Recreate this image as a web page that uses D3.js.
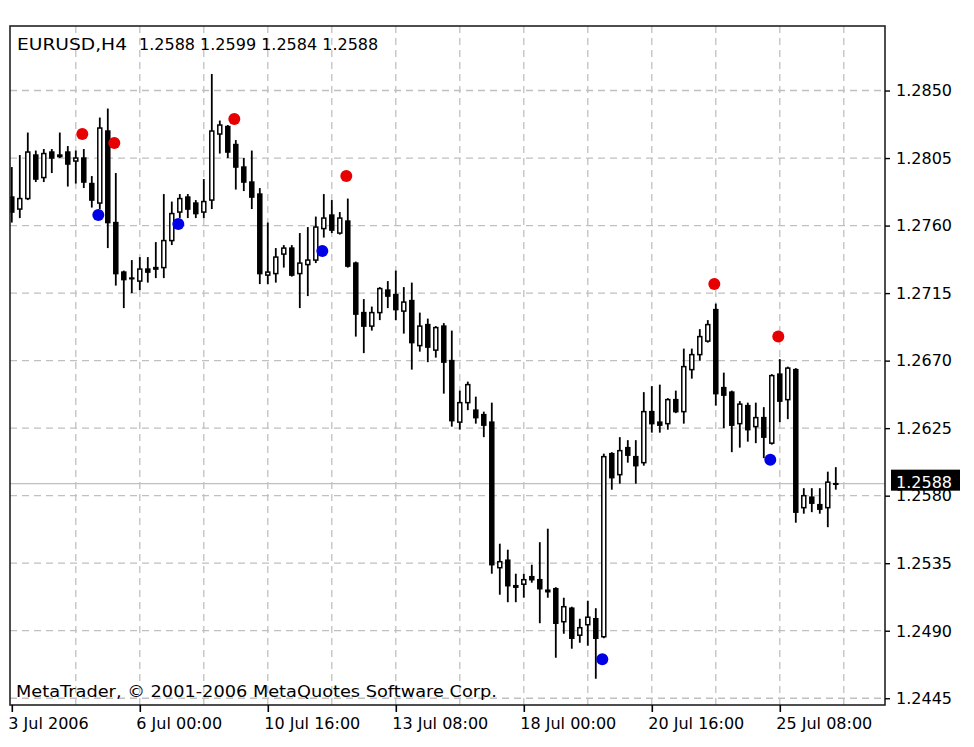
<!DOCTYPE html>
<html><head><meta charset="utf-8">
<script src="https://cdn.jsdelivr.net/npm/d3@7"></script>
<style>
body{margin:0;background:#fff}
svg{display:block}
text{font-family:"DejaVu Sans",Verdana,sans-serif}
</style>
</head><body>
<svg id="chart" width="974" height="747"></svg>
<script>
// ---- data (EURUSD H4, bar index 0 = 3 Jul 2006) ----
const symbol = "EURUSD,H4";
const opens = [1.2779,1.2771,1.2778,1.2807,1.2792,1.2809,1.2807,1.2809,1.2803,1.2805,
1.2788,1.2775,1.2823,1.2762,1.2729,1.2725,1.2723,1.2731,1.2731,1.2732,
1.2750,1.2769,1.2779,1.2775,1.2769,1.2777,1.2821,1.2826,1.2814,1.2799,
1.2789,1.2781,1.2727,1.2728,1.2741,1.2745,1.2728,1.2734,1.2737,1.2758,
1.2767,1.2755,1.2763,1.2735,1.2702,1.2693,1.2702,1.2717,1.2714,1.2703,
1.2710,1.2680,1.2694,1.2677,1.2693,1.2670,1.2629,1.2642,1.2637,1.2634,
1.2629,1.2532,1.2537,1.2520,1.2521,1.2526,1.2524,1.2517,1.2518,1.2496,
1.2505,1.2487,1.2494,1.2498,1.2486,1.2608,1.2594,1.2612,1.2606,1.2602,
1.2636,1.2629,1.2628,1.2644,1.2636,1.2664,1.2674,1.2683,1.2704,1.2652,
1.2649,1.2628,1.2640,1.2626,1.2632,1.2615,1.2661,1.2644,1.2664,1.2572,
1.2579,1.2574,1.2572,1.2588];
const highs = [1.2799,1.2807,1.2822,1.2810,1.2811,1.2811,1.2822,1.2813,1.2810,1.2811,
1.2793,1.2832,1.2838,1.2795,1.2730,1.2737,1.2739,1.2739,1.2749,1.2781,
1.2776,1.2781,1.2781,1.2777,1.2791,1.2861,1.2830,1.2827,1.2817,1.2805,
1.2810,1.2785,1.2762,1.2745,1.2747,1.2747,1.2755,1.2759,1.2766,1.2781,
1.2777,1.2769,1.2778,1.2736,1.2711,1.2706,1.2719,1.2723,1.2730,1.2719,
1.2722,1.2702,1.2698,1.2693,1.2695,1.2690,1.2650,1.2656,1.2646,1.2636,
1.2642,1.2548,1.2544,1.2528,1.2528,1.2534,1.2549,1.2558,1.2519,1.2512,
1.2506,1.2498,1.2510,1.2505,1.2608,1.2609,1.2619,1.2617,1.2617,1.2649,
1.2653,1.2654,1.2645,1.2650,1.2678,1.2678,1.2691,1.2697,1.2708,1.2662,
1.2650,1.2643,1.2642,1.2642,1.2639,1.2661,1.2671,1.2666,1.2665,1.2585,
1.2585,1.2585,1.2596,1.2599];
const lows = [1.2762,1.2765,1.2777,1.2789,1.2789,1.2795,1.2805,1.2786,1.2788,1.2785,
1.2772,1.2771,1.2745,1.2720,1.2705,1.2715,1.2717,1.2722,1.2725,1.2725,
1.2747,1.2765,1.2765,1.2765,1.2765,1.2771,1.2808,1.2805,1.2784,1.2783,
1.2771,1.2721,1.2721,1.2722,1.2732,1.2726,1.2705,1.2713,1.2735,1.2752,
1.2755,1.2754,1.2732,1.2686,1.2675,1.2690,1.2697,1.2705,1.2697,1.2688,
1.2664,1.2676,1.2669,1.2672,1.2648,1.2626,1.2624,1.2637,1.2628,1.2619,
1.2528,1.2514,1.2509,1.2509,1.2512,1.2522,1.2495,1.2512,1.2472,1.2488,
1.2478,1.2482,1.2480,1.2458,1.2485,1.2584,1.2588,1.2602,1.2588,1.2600,
1.2622,1.2622,1.2624,1.2635,1.2628,1.2658,1.2670,1.2682,1.2640,1.2625,
1.2609,1.2612,1.2616,1.2615,1.2605,1.2614,1.2629,1.2631,1.2562,1.2568,
1.2569,1.2568,1.2559,1.2584];
const closes = [1.2769,1.2778,1.2809,1.2791,1.2808,1.2805,1.2806,1.2801,1.2805,1.2789,
1.2777,1.2825,1.2762,1.2728,1.2724,1.2725,1.2731,1.2729,1.2732,1.2750,
1.2768,1.2778,1.2771,1.2768,1.2776,1.2823,1.2827,1.2809,1.2799,1.2789,
1.2779,1.2728,1.2729,1.2739,1.2745,1.2727,1.2735,1.2737,1.2759,1.2765,
1.2757,1.2765,1.2733,1.2701,1.2693,1.2702,1.2718,1.2713,1.2704,1.2709,
1.2682,1.2693,1.2679,1.2692,1.2669,1.2630,1.2642,1.2654,1.2632,1.2627,
1.2534,1.2536,1.2520,1.2519,1.2524,1.2524,1.2518,1.2516,1.2495,1.2506,
1.2485,1.2492,1.2499,1.2485,1.2606,1.2592,1.2610,1.2607,1.2600,1.2636,
1.2628,1.2627,1.2644,1.2636,1.2666,1.2674,1.2686,1.2694,1.2648,1.2647,
1.2627,1.2641,1.2624,1.2632,1.2619,1.2660,1.2643,1.2665,1.2569,1.2580,
1.2575,1.2571,1.2589,1.2588];
// fractal-style markers
const upMarkBars   = [9, 13, 28, 42, 88, 96];
const upMarkPrices = [1.2821, 1.2815, 1.2831, 1.2793, 1.2721, 1.2686];
const dnMarkBars   = [11, 21, 39, 74, 95];
const dnMarkPrices = [1.2767, 1.2761, 1.2743, 1.2471, 1.2604];
// axis ticks
const priceTicks = [1.2850,1.2805,1.2760,1.2715,1.2670,1.2625,1.2580,1.2535,1.2490,1.2445];
const timeTickBars = [0,16,32,48,64,80,96];
const timeTickLabels = ["3 Jul 2006","6 Jul 00:00","10 Jul 16:00","13 Jul 08:00","18 Jul 00:00","20 Jul 16:00","25 Jul 08:00"];
const gridBars = [8,16,24,32,40,48,56,64,72,80,88,96,104];
const copyright = "MetaTrader, \u00A9 2001-2006 MetaQuotes Software Corp.";

// ---- layout ----
const L = 10, R = 885, T = 26, B = 705;
const svg = d3.select("#chart");
const n = opens.length;
const x = d3.scaleLinear().domain([0, 103]).range([11.8, 835.8]);
const y = d3.scaleLinear().domain([1.24405, 1.28930]).range([B, T]);
const gridColor = "#c0c0c0";

svg.append("rect").attr("width",974).attr("height",747).attr("fill","#fff");

svg.append("defs").append("clipPath").attr("id","plot")
  .append("rect").attr("x",L).attr("y",T).attr("width",R-L).attr("height",B-T);

const g = svg.append("g").attr("clip-path","url(#plot)");

// grid
g.selectAll("line.hg").data(priceTicks).join("line")
  .attr("x1",L).attr("x2",R).attr("y1",d=>y(d)).attr("y2",d=>y(d))
  .attr("stroke",gridColor).attr("stroke-width",1.3).attr("stroke-dasharray","7,5");
g.selectAll("line.vg").data(gridBars).join("line")
  .attr("y1",T).attr("y2",B).attr("x1",d=>x(d)).attr("x2",d=>x(d))
  .attr("stroke",gridColor).attr("stroke-width",1.3).attr("stroke-dasharray","7,5");

// current price line
const last = closes[n-1];
g.append("line").attr("x1",L).attr("x2",R).attr("y1",y(last)).attr("y2",y(last))
  .attr("stroke","#c0c0c0").attr("stroke-width",1.4);

// candles
const idx = d3.range(n);
g.selectAll("line.wick").data(idx).join("line")
  .attr("x1",i=>x(i)).attr("x2",i=>x(i))
  .attr("y1",i=>y(highs[i])).attr("y2",i=>y(lows[i]))
  .attr("stroke","#000").attr("stroke-width",1.8);
const bw = 4;
g.selectAll("rect.body").data(idx).join("rect")
  .attr("x",i=>x(i)-bw/2).attr("width",bw)
  .attr("y",i=>y(Math.max(opens[i],closes[i])))
  .attr("height",i=>Math.max(0.6, Math.abs(y(opens[i])-y(closes[i]))))
  .attr("fill",i=>closes[i]>=opens[i]?"#fff":"#000")
  .attr("stroke","#000").attr("stroke-width",1.5);

// markers
g.selectAll("circle.up").data(upMarkBars).join("circle")
  .attr("cx",d=>x(d)-1.5).attr("cy",(d,k)=>y(upMarkPrices[k])).attr("r",6)
  .attr("fill","#e60000");
g.selectAll("circle.dn").data(dnMarkBars).join("circle")
  .attr("cx",d=>x(d)-1.5).attr("cy",(d,k)=>y(dnMarkPrices[k])).attr("r",6)
  .attr("fill","#0000e6");

// texts inside plot
svg.append("text").attr("x",17).attr("y",50).attr("font-size",16).attr("fill","#000")
  .attr("textLength",110).attr("lengthAdjust","spacingAndGlyphs").text(symbol);
svg.append("text").attr("x",139).attr("y",50).attr("font-size",16).attr("fill","#000")
  .text([opens[n-1],highs[n-1],lows[n-1],closes[n-1]].map(d3.format(".4f")).join(" "));
svg.append("text").attr("x",16).attr("y",697).attr("font-size",16).attr("fill","#000")
  .attr("textLength",481).attr("lengthAdjust","spacingAndGlyphs").text(copyright);

// frame
svg.append("rect").attr("x",L).attr("y",T).attr("width",R-L).attr("height",B-T)
  .attr("fill","none").attr("stroke","#222").attr("stroke-width",1.6);

// right axis
const ya = d3.axisRight(y).tickValues(priceTicks).tickSize(5).tickPadding(6).tickFormat(d3.format(".4f"));
const yg = svg.append("g").attr("transform",`translate(${R},0)`).call(ya);
yg.select(".domain").remove();
yg.selectAll(".tick line").attr("stroke","#000").attr("stroke-width",1.4);
yg.selectAll(".tick text").attr("font-size",16).attr("fill","#000")
  .attr("font-family","DejaVu Sans").attr("dy","0.33em");

// bottom axis
const xa = d3.axisBottom(x).tickValues(timeTickBars).tickSize(7).tickPadding(6)
  .tickFormat((d,k)=>timeTickLabels[k]);
const xg = svg.append("g").attr("transform",`translate(0,${B})`).call(xa);
xg.select(".domain").remove();
xg.selectAll(".tick line").attr("stroke","#000").attr("stroke-width",1.6);
xg.selectAll(".tick text").attr("font-size",16).attr("fill","#000")
  .attr("font-family","DejaVu Sans").attr("text-anchor","start")
  .attr("x",-4).attr("dy","0.71em");

// current price label
const py = y(last);
svg.append("rect").attr("x",891).attr("y",py-14).attr("width",69).attr("height",21).attr("fill","#000");
svg.append("text").attr("x",896).attr("y",py+4).attr("font-size",16).attr("fill","#fff")
  .text(d3.format(".4f")(last));
</script>
</body></html>
